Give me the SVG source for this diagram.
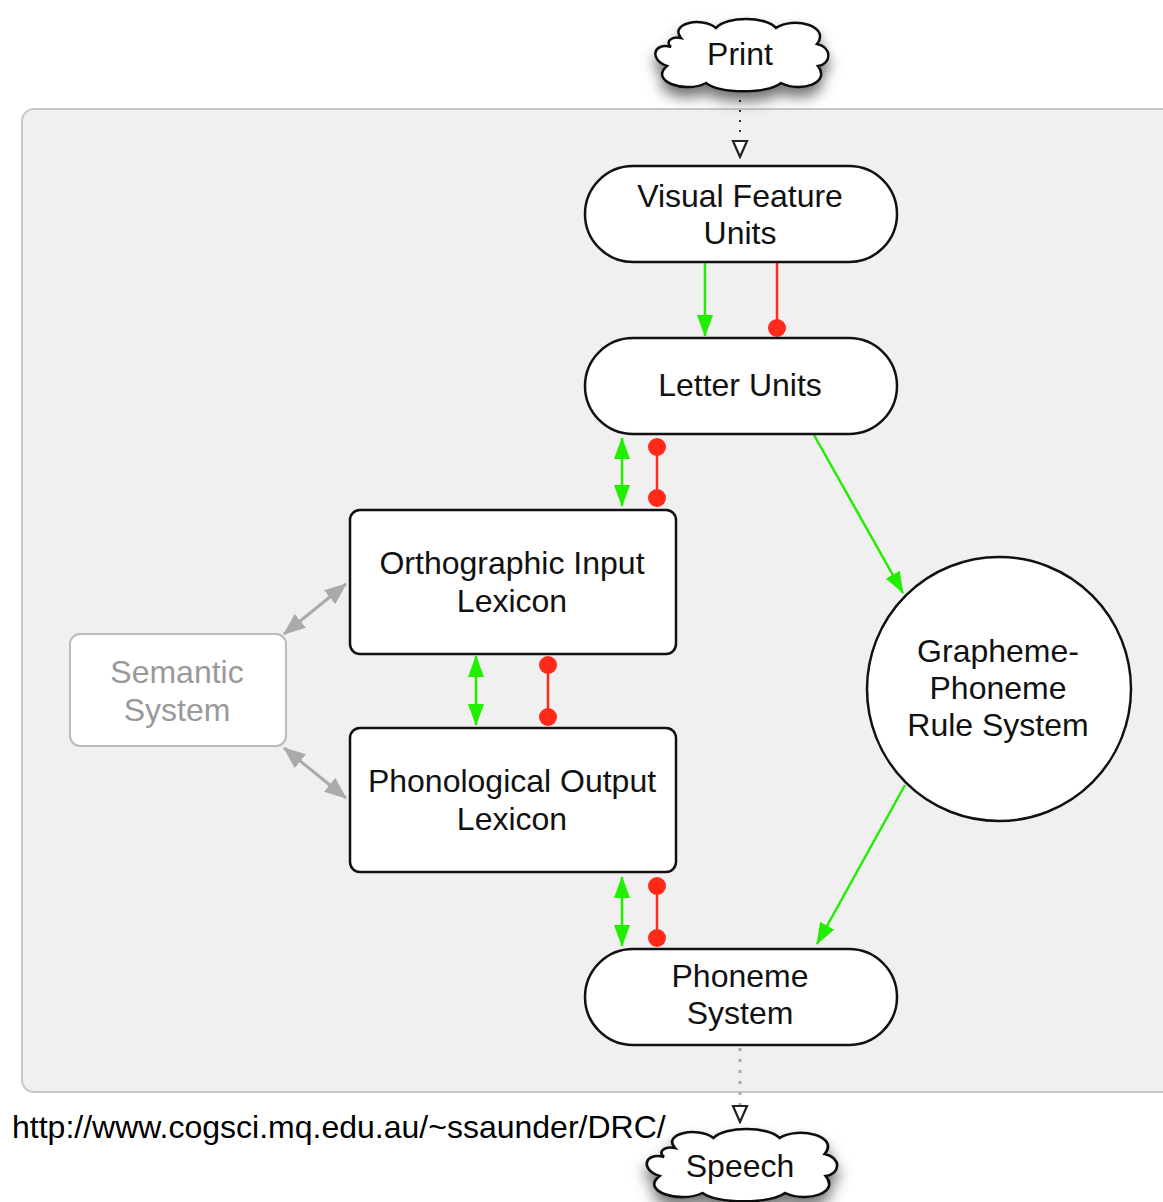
<svg xmlns="http://www.w3.org/2000/svg" width="1163" height="1202" viewBox="0 0 1163 1202">
<style>
text{font-family:"Liberation Sans",Arial,sans-serif;font-size:32px;fill:#111;text-anchor:middle}
.node{fill:#fff;stroke:#111;stroke-width:2.5}
.sem{fill:#fff;stroke:#bbb;stroke-width:2}
.semt{fill:#999}
.g{stroke:#22ee00;stroke-width:2.5;fill:none}
.r{stroke:#ff2a1a;stroke-width:2.5;fill:none}
.gr{stroke:#aaa;stroke-width:3;fill:none}
.cloud{fill:#fff;stroke:#111;stroke-width:2.5}
</style>
<defs>
<marker id="ga" viewBox="0 0 22 16" refX="21" refY="8" markerWidth="22" markerHeight="16" markerUnits="userSpaceOnUse" orient="auto-start-reverse"><path d="M0,0 L22,8 L0,16 Z" fill="#22ee00"/></marker>
<marker id="gra" viewBox="0 0 22 18" refX="21" refY="9" markerWidth="22" markerHeight="18" markerUnits="userSpaceOnUse" orient="auto-start-reverse"><path d="M0,0 L22,9 L0,18 Z" fill="#aaa"/></marker>
<marker id="rd" viewBox="0 0 20 20" refX="10" refY="10" markerWidth="20" markerHeight="20" markerUnits="userSpaceOnUse"><circle cx="10" cy="10" r="9" fill="#ff2a1a"/></marker>
<marker id="ha" viewBox="0 0 20 20" refX="10" refY="18" markerWidth="20" markerHeight="20" markerUnits="userSpaceOnUse" orient="0"><path d="M3,2 L17,2 L10,18 Z" fill="#fff" stroke="#222" stroke-width="2.2"/></marker>
<marker id="hb" viewBox="0 0 20 20" refX="10" refY="18" markerWidth="20" markerHeight="20" markerUnits="userSpaceOnUse" orient="0"><path d="M3,2 L17,2 L10,18 Z" fill="#fff" stroke="#222" stroke-width="2.2"/></marker>
<filter id="sh" x="-30%" y="-40%" width="160%" height="200%"><feDropShadow dx="0" dy="9" stdDeviation="7" flood-color="#000" flood-opacity="0.55"/></filter>
<path id="cl" d="M-60,-18 C-72,-32 -40,-40 -25,-28 C-15,-40 25,-40 35,-28 C52,-40 90,-30 76,-12 C92,-8 90,8 77,10 C90,27 60,37 40,27 C25,38 -20,38 -35,27 C-56,38 -92,25 -74,10 C-92,4 -88,-14 -70,-9 C-76,-14 -70,-20 -60,-18 Z"/>
</defs>
<rect x="22" y="109" width="1160" height="983" rx="12" fill="#f0f0f0" stroke="#c8c8c8" stroke-width="2"/>
<g id="connectors">
<line x1="740" y1="90" x2="740" y2="157" stroke="#333" stroke-width="2" stroke-dasharray="2,8" marker-end="url(#ha)"/>
<line x1="705" y1="263" x2="705" y2="336" class="g" marker-end="url(#ga)"/>
<line x1="777" y1="263" x2="777" y2="328" class="r" marker-end="url(#rd)"/>
<line x1="622" y1="438" x2="622" y2="506" class="g" marker-start="url(#ga)" marker-end="url(#ga)"/>
<line x1="657" y1="447" x2="657" y2="498" class="r" marker-start="url(#rd)" marker-end="url(#rd)"/>
<line x1="476" y1="656" x2="476" y2="725" class="g" marker-start="url(#ga)" marker-end="url(#ga)"/>
<line x1="548" y1="665" x2="548" y2="717" class="r" marker-start="url(#rd)" marker-end="url(#rd)"/>
<line x1="622" y1="877" x2="622" y2="946" class="g" marker-start="url(#ga)" marker-end="url(#ga)"/>
<line x1="657" y1="886" x2="657" y2="938" class="r" marker-start="url(#rd)" marker-end="url(#rd)"/>
<line x1="814" y1="435" x2="903" y2="593" class="g" marker-end="url(#ga)"/>
<line x1="905" y1="785" x2="817" y2="944" class="g" marker-end="url(#ga)"/>
<line x1="284" y1="634" x2="346" y2="584" class="gr" marker-start="url(#gra)" marker-end="url(#gra)"/>
<line x1="284" y1="748" x2="346" y2="798" class="gr" marker-start="url(#gra)" marker-end="url(#gra)"/>
<line x1="740" y1="1048" x2="740" y2="1122" stroke="#aaa" stroke-width="3" stroke-dasharray="3,8" marker-end="url(#hb)"/>
</g>
<g id="print">
<use href="#cl" transform="translate(741,56)" class="cloud" filter="url(#sh)"/>
<text x="740" y="65">Print</text>
</g>
<g id="visual-feature-units">
<rect class="node" x="585" y="166" width="312" height="96" rx="48"/>
<text x="740" y="207">Visual Feature</text>
<text x="740" y="244">Units</text>
</g>
<g id="letter-units">
<rect class="node" x="585" y="338" width="312" height="96" rx="48"/>
<text x="740" y="396">Letter Units</text>
</g>
<g id="orthographic-input-lexicon">
<rect class="node" x="350" y="510" width="326" height="144" rx="10"/>
<text x="512" y="574">Orthographic Input</text>
<text x="512" y="612">Lexicon</text>
</g>
<g id="phonological-output-lexicon">
<rect class="node" x="350" y="728" width="326" height="144" rx="10"/>
<text x="512" y="792">Phonological Output</text>
<text x="512" y="830">Lexicon</text>
</g>
<g id="semantic-system">
<rect class="sem" x="70" y="634" width="216" height="112" rx="10"/>
<text class="semt" x="177" y="683">Semantic</text>
<text class="semt" x="177" y="721">System</text>
</g>
<g id="gpr-system">
<circle class="node" cx="999" cy="689" r="132"/>
<text x="998" y="662">Grapheme-</text>
<text x="998" y="699">Phoneme</text>
<text x="998" y="736">Rule System</text>
</g>
<g id="phoneme-system">
<rect class="node" x="585" y="949" width="312" height="96" rx="48"/>
<text x="740" y="987">Phoneme</text>
<text x="740" y="1024">System</text>
</g>
<g id="speech">
<use href="#cl" transform="translate(741,1166) scale(1.1,1)" class="cloud" filter="url(#sh)"/>
<text x="740" y="1177">Speech</text>
</g>
<text x="12" y="1138" style="text-anchor:start;fill:#000">http://www.cogsci.mq.edu.au/~ssaunder/DRC/</text>
</svg>
